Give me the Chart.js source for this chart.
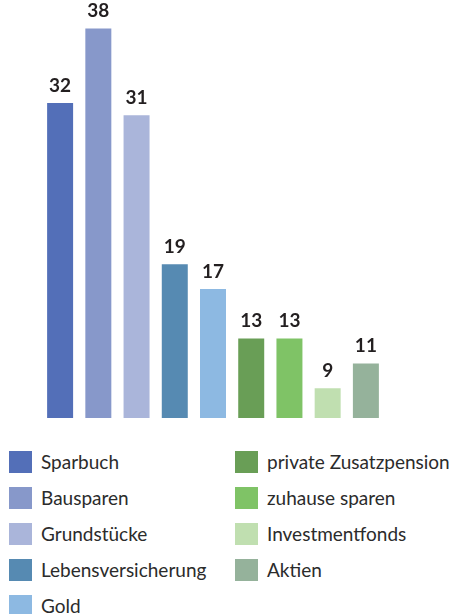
<!DOCTYPE html>
<html>
<head>
<meta charset="utf-8">
<script src="https://cdn.jsdelivr.net/npm/chart.js@4"></script>
<style>
  html, body { margin: 0; padding: 0; background: #fff; }
  #wrap { position: relative; width: 452px; height: 614px; overflow: hidden; }
  #box { position: absolute; left: 0; top: 0; width: 452px; height: 420px; }
  .item { position: absolute; height: 22px; font-family: Lato, sans-serif; font-size: 19px; color: #2b2b2b; white-space: nowrap; }
  .item span.sw { position: absolute; left: 0; top: 0; width: 23px; height: 22px; }
  .item span.tx { position: absolute; left: 32px; top: 0; line-height: 22px; }
</style>
</head>
<body>
<div id="wrap">
  <div id="box"><canvas id="stats"></canvas></div>
  <div id="legend"></div>
</div>
<script>
var categories = ["Sparbuch", "Bausparen", "Grundstücke", "Lebensversicherung", "Gold",
                  "private Zusatzpension", "zuhause sparen", "Investmentfonds", "Aktien"];
var values = [32, 38, 31, 19, 17, 13, 13, 9, 11];
var colors = ["#536fb8", "#8798ca", "#aab5da", "#568ab2", "#8db9e2",
              "#699e56", "#7fc366", "#c0dfb0", "#95b29b"];

// value labels above each bar
const barLabels = {
  id: "barLabels",
  afterDatasetsDraw(chart) {
    const ctx = chart.ctx;
    const meta = chart.getDatasetMeta(0);
    ctx.save();
    ctx.font = "bold 19px Lato, sans-serif";
    ctx.fillStyle = "#231f20";
    ctx.textAlign = "center";
    ctx.textBaseline = "bottom";
    meta.data.forEach(function (bar, i) {
      ctx.fillText(values[i], bar.x, bar.y - 8);
    });
    ctx.restore();
  }
};

new Chart("stats", {
  type: "bar",
  data: {
    labels: categories,
    datasets: [{
      data: values,
      backgroundColor: colors,
      borderWidth: 0,
      barPercentage: 0.68,
      categoryPercentage: 1.0
    }]
  },
  options: {
    responsive: true,
    maintainAspectRatio: false,
    animation: false,
    layout: { padding: { left: 41, right: 67, top: 0, bottom: 2 } },
    plugins: {
      legend: { display: false },
      tooltip: { enabled: false }
    },
    scales: {
      x: { display: false },
      y: { display: false, min: 6.6, max: 40.3 }
    }
  },
  plugins: [barLabels]
});

// legend, two columns filled top to bottom
var legend = document.getElementById("legend");
categories.forEach(function (name, i) {
  var col = i < 5 ? 0 : 1;
  var row = i < 5 ? i : i - 5;
  var el = document.createElement("div");
  el.className = "item";
  el.style.left = (col ? 235 : 9) + "px";
  el.style.top = (451 + row * 36) + "px";
  el.innerHTML = '<span class="sw" style="background:' + colors[i] + '"></span><span class="tx">' + name + '</span>';
  legend.appendChild(el);
});
</script>
</body>
</html>
